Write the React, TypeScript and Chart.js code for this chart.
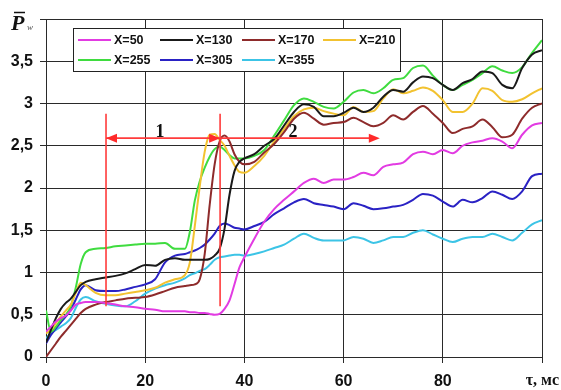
import React, { useEffect, useRef } from "react";
import { Chart, registerables } from "chart.js";

Chart.register(...registerables);

// time axis, ms
const TAU = [0, 1, 2, 3, 4, 5, 6, 7, 8, 10, 12, 14, 16, 18, 20, 22, 24, 26, 28, 29, 30, 31, 32, 33, 34, 35, 36, 37, 38, 39, 40, 42, 44, 46, 48, 50, 52, 54, 56, 58, 60, 62, 64, 66, 68, 70, 72, 74, 76, 78, 80, 82, 84, 86, 88, 90, 92, 94, 96, 98, 100];

const X50 = [0.30, 0.36, 0.42, 0.46, 0.49, 0.55, 0.62, 0.64, 0.65, 0.65, 0.64, 0.62, 0.60, 0.59, 0.57, 0.56, 0.54, 0.54, 0.54, 0.53, 0.53, 0.52, 0.52, 0.51, 0.50, 0.51, 0.57, 0.67, 0.86, 1.06, 1.18, 1.40, 1.60, 1.75, 1.86, 1.96, 2.06, 2.11, 2.06, 2.10, 2.10, 2.13, 2.18, 2.15, 2.25, 2.28, 2.30, 2.40, 2.43, 2.40, 2.45, 2.41, 2.50, 2.54, 2.56, 2.59, 2.55, 2.47, 2.63, 2.74, 2.77];
const X130 = [0.17, 0.32, 0.46, 0.57, 0.64, 0.69, 0.77, 0.85, 0.89, 0.92, 0.94, 0.96, 0.99, 1.04, 1.09, 1.08, 1.15, 1.17, 1.15, 1.15, 1.15, 1.15, 1.15, 1.16, 1.20, 1.28, 1.52, 1.92, 2.20, 2.31, 2.35, 2.40, 2.50, 2.58, 2.74, 2.90, 2.99, 2.96, 2.85, 2.85, 2.89, 2.95, 2.90, 2.95, 3.08, 3.16, 3.14, 3.25, 3.32, 3.30, 3.22, 3.16, 3.24, 3.29, 3.38, 3.36, 3.22, 3.18, 3.42, 3.58, 3.63];
const X170 = [0.00, 0.08, 0.16, 0.24, 0.31, 0.38, 0.45, 0.52, 0.57, 0.62, 0.65, 0.67, 0.69, 0.70, 0.71, 0.74, 0.78, 0.82, 0.84, 0.85, 0.86, 0.92, 1.22, 1.80, 2.28, 2.55, 2.62, 2.55, 2.40, 2.31, 2.28, 2.31, 2.42, 2.52, 2.66, 2.82, 2.89, 2.82, 2.75, 2.77, 2.78, 2.83, 2.78, 2.73, 2.77, 2.86, 2.81, 2.90, 2.97, 2.88, 2.77, 2.65, 2.70, 2.73, 2.81, 2.72, 2.60, 2.63, 2.82, 2.95, 3.00];
const X210 = [0.28, 0.32, 0.40, 0.48, 0.55, 0.62, 0.76, 0.88, 0.85, 0.76, 0.73, 0.73, 0.75, 0.77, 0.79, 0.82, 0.88, 0.92, 0.97, 1.12, 1.55, 2.02, 2.43, 2.63, 2.64, 2.57, 2.50, 2.38, 2.27, 2.19, 2.18, 2.26, 2.38, 2.55, 2.70, 2.85, 2.93, 2.95, 2.91, 2.88, 2.86, 2.96, 2.90, 2.91, 3.06, 3.17, 3.12, 3.15, 3.19, 3.15, 3.04, 2.90, 2.90, 3.00, 3.18, 3.15, 3.04, 3.02, 3.05, 3.12, 3.18];
const X255 = [0.55, 0.30, 0.36, 0.44, 0.50, 0.60, 0.82, 1.10, 1.24, 1.28, 1.29, 1.31, 1.32, 1.33, 1.34, 1.34, 1.35, 1.28, 1.28, 1.48, 1.85, 2.08, 2.24, 2.37, 2.46, 2.49, 2.45, 2.39, 2.35, 2.35, 2.35, 2.38, 2.45, 2.62, 2.80, 2.98, 3.06, 3.02, 2.96, 2.94, 3.02, 3.13, 3.16, 3.12, 3.18, 3.28, 3.30, 3.42, 3.45, 3.33, 3.22, 3.16, 3.22, 3.28, 3.36, 3.44, 3.39, 3.36, 3.43, 3.60, 3.75];
const X305 = [0.16, 0.26, 0.34, 0.41, 0.48, 0.56, 0.68, 0.80, 0.85, 0.79, 0.78, 0.78, 0.80, 0.83, 0.86, 0.92, 1.12, 1.20, 1.22, 1.24, 1.26, 1.29, 1.33, 1.39, 1.46, 1.55, 1.58, 1.56, 1.53, 1.52, 1.51, 1.55, 1.60, 1.69, 1.76, 1.83, 1.87, 1.82, 1.80, 1.78, 1.75, 1.82, 1.79, 1.75, 1.76, 1.78, 1.80, 1.86, 1.93, 1.91, 1.84, 1.78, 1.86, 1.83, 1.88, 1.96, 1.92, 1.87, 1.96, 2.14, 2.17];
const X355 = [0.22, 0.28, 0.32, 0.36, 0.40, 0.46, 0.58, 0.68, 0.71, 0.66, 0.63, 0.61, 0.60, 0.66, 0.75, 0.81, 0.85, 0.88, 0.93, 0.97, 0.99, 1.02, 1.04, 1.09, 1.15, 1.18, 1.19, 1.20, 1.21, 1.21, 1.20, 1.22, 1.25, 1.29, 1.33, 1.40, 1.46, 1.41, 1.38, 1.38, 1.38, 1.42, 1.40, 1.35, 1.38, 1.42, 1.42, 1.47, 1.50, 1.45, 1.40, 1.36, 1.40, 1.42, 1.42, 1.46, 1.42, 1.38, 1.47, 1.57, 1.62];

const SERIES_LABELS = ["X=50", "X=130", "X=170", "X=210", "X=255", "X=305", "X=355"];
const SERIES_VALUES = [X50, X130, X170, X210, X255, X305, X355];
const SERIES_COLORS = ["#e23be2", "#1a1a1a", "#8e2b2b", "#f2c230", "#3fdc3f", "#2a22c4", "#3cc4e6"];

const X_TICKS = [0, 20, 40, 60, 80, 100];
const Y_TICKS = [0, 0.5, 1, 1.5, 2, 2.5, 3, 3.5, 4];

// annotation values (data units)
const MARK_TAU = [12.1, 35.1, 67.3];
const MARK_Y_RANGE = [0.6, 2.88];
const ARROW_Y = 2.59;
const ARROW_LABELS = ["1", "2"];
const ARROW_LABEL_TAU = [23, 49.8];

export default function App() {
  const ref = useRef<HTMLCanvasElement | null>(null);

  useEffect(() => {
    const canvas = ref.current;
    if (!canvas) return;

    const head = (ctx: CanvasRenderingContext2D, x: number, y: number, dir: number) => {
      ctx.beginPath();
      ctx.moveTo(x, y);
      ctx.lineTo(x - dir * 11, y - 4.5);
      ctx.lineTo(x - dir * 11, y + 4.5);
      ctx.closePath();
      ctx.fill();
    };

    const overlay = {
      id: "overlay",
      afterDatasetsDraw(chart: any) {
        const ctx: CanvasRenderingContext2D = chart.ctx;
        const xs = chart.scales.x;
        const ys = chart.scales.y;
        ctx.save();
        // red markers
        ctx.strokeStyle = "#ff3b3b";
        ctx.fillStyle = "#ff2a2a";
        ctx.lineWidth = 1.6;
        const yTop = ys.getPixelForValue(MARK_Y_RANGE[1]);
        const yBot = ys.getPixelForValue(MARK_Y_RANGE[0]);
        [MARK_TAU[0], MARK_TAU[1]].forEach((t) => {
          const px = xs.getPixelForValue(t);
          ctx.beginPath();
          ctx.moveTo(px, yTop);
          ctx.lineTo(px, yBot);
          ctx.stroke();
        });
        const ay = ys.getPixelForValue(ARROW_Y);
        const a0 = xs.getPixelForValue(MARK_TAU[0]);
        const a1 = xs.getPixelForValue(MARK_TAU[1]);
        const a2 = xs.getPixelForValue(MARK_TAU[2]);
        ctx.beginPath();
        ctx.moveTo(a0, ay);
        ctx.lineTo(a2 - 4, ay);
        ctx.stroke();
        head(ctx, a0, ay, -1);
        head(ctx, a1, ay, 1);
        head(ctx, a2, ay, 1);
        // labels 1, 2
        ctx.fillStyle = "#111";
        ctx.font = "bold 18px 'Liberation Serif', serif";
        ctx.textAlign = "center";
        ctx.textBaseline = "alphabetic";
        ARROW_LABELS.forEach((lab, i) => {
          ctx.fillText(lab, xs.getPixelForValue(ARROW_LABEL_TAU[i]), ay - 1);
        });

        // legend box
        const bx = 73, by = 28, bw = 327, bh = 43;
        ctx.fillStyle = "#ffffff";
        ctx.fillRect(bx, by, bw, bh);
        ctx.strokeStyle = "#222";
        ctx.lineWidth = 1;
        ctx.strokeRect(bx + 0.5, by + 0.5, bw, bh);
        ctx.font = "bold 12.5px 'Liberation Sans', Arial, sans-serif";
        ctx.textAlign = "left";
        ctx.textBaseline = "middle";
        const colX = [78, 160, 242, 323];
        const rowY = [40, 60];
        SERIES_LABELS.forEach((lab, i) => {
          const c = i % 4;
          const r = Math.floor(i / 4);
          const sx = colX[c];
          const sy = rowY[r];
          ctx.strokeStyle = SERIES_COLORS[i];
          ctx.lineWidth = 2;
          ctx.beginPath();
          ctx.moveTo(sx, sy);
          ctx.lineTo(sx + 33, sy);
          ctx.stroke();
          ctx.fillStyle = "#111";
          ctx.fillText(lab, sx + 36, sy + 0.5);
        });

        // axis titles
        ctx.fillStyle = "#111";
        ctx.textAlign = "left";
        ctx.textBaseline = "alphabetic";
        ctx.font = "bold italic 22px 'Liberation Serif', serif";
        ctx.fillText("P", 11, 30);
        ctx.strokeStyle = "#111";
        ctx.lineWidth = 1.5;
        ctx.beginPath();
        ctx.moveTo(14, 12.5);
        ctx.lineTo(25, 12.5);
        ctx.stroke();
        ctx.fillStyle = "#555";
        ctx.font = "italic 9px 'Liberation Serif', serif";
        ctx.fillText("w", 27, 30);
        ctx.fillStyle = "#111";
        ctx.font = "bold 16px 'Liberation Serif', serif";
        ctx.textAlign = "right";
        ctx.fillText("τ, мс", 559, 385);
        ctx.restore();
      },
    };

    const tickFont = { family: "'Liberation Sans', Arial, sans-serif", size: 16, weight: "bold" as const };

    const chart = new Chart(canvas, {
      type: "line",
      data: {
        datasets: SERIES_LABELS.map((lab, i) => ({
          label: lab,
          data: TAU.map((t, j) => ({ x: t, y: SERIES_VALUES[i][j] })),
          borderColor: SERIES_COLORS[i],
          backgroundColor: SERIES_COLORS[i],
          borderWidth: 2,
          pointRadius: 0,
          tension: 0.4,
          cubicInterpolationMode: "monotone" as const,
          fill: false,
        })),
      },
      options: {
        responsive: false,
        animation: false,
        events: [],
        layout: { padding: { top: 19, right: 19, left: 0, bottom: 0 } },
        plugins: { legend: { display: false }, tooltip: { enabled: false } },
        scales: {
          x: {
            type: "linear",
            min: 0,
            max: 100,
            afterBuildTicks: (s: any) => {
              s.ticks = X_TICKS.map((v) => ({ value: v }));
            },
            ticks: {
              color: "#111",
              font: tickFont,
              padding: 9,
              maxRotation: 0,
              callback: (v: any) => (v === 100 ? "" : String(v)),
            },
            grid: { color: "#2a2a2a", lineWidth: 1, tickLength: 6, drawTicks: true },
            border: { display: true, color: "#2a2a2a" },
            afterFit: (s: any) => {
              s.height = 33;
            },
          },
          y: {
            type: "linear",
            min: 0,
            max: 4,
            afterBuildTicks: (s: any) => {
              s.ticks = Y_TICKS.map((v) => ({ value: v }));
            },
            ticks: {
              color: "#111",
              font: tickFont,
              padding: 7,
              callback: (v: any) => (v === 4 ? "" : String(v).replace(".", ",")),
            },
            grid: { color: "#2a2a2a", lineWidth: 1, tickLength: 6, drawTicks: true },
            border: { display: true, color: "#2a2a2a" },
            afterFit: (s: any) => {
              s.width = 46;
            },
          },
        },
      },
      plugins: [overlay],
    });
    return () => chart.destroy();
  }, []);

  return (
    <div style={{ position: "fixed", left: 0, top: 0, width: 561, height: 390, background: "#fff" }}>
      <canvas ref={ref} width={561} height={390} style={{ display: "block", width: 561, height: 390 }} />
    </div>
  );
}
